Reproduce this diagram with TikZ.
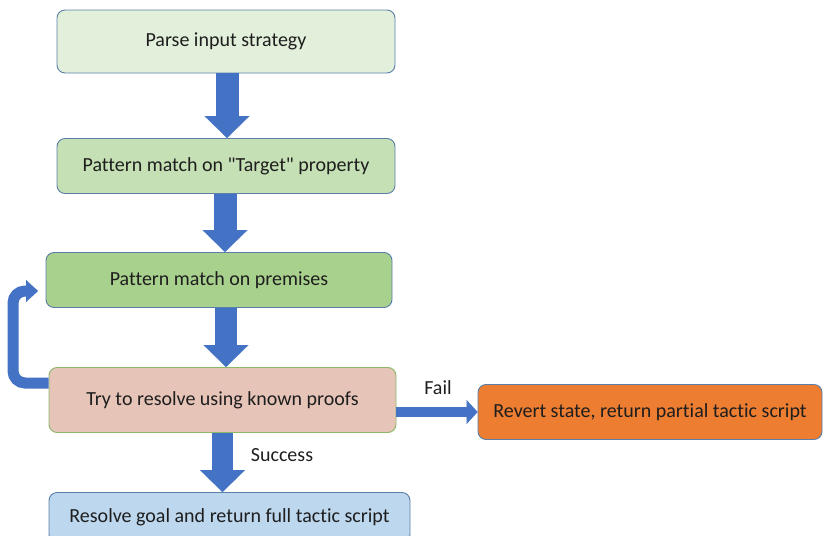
\documentclass[tikz,border=0pt]{standalone}
\usepackage{fontspec}
\setmainfont[Ligatures=NoCommon]{Carlito}
% straight double quote (no TeX mapping to curly quotes)
\newfontfamily\qfont[Ligatures=ResetAll]{Carlito}
\usetikzlibrary{arrows.meta}

\definecolor{flowblue}{HTML}{4472C4}
\definecolor{edgeblue}{HTML}{5B7FA8}
\definecolor{edgegreen}{HTML}{8DB86B}
\definecolor{txt}{HTML}{1E1E1E}
\definecolor{fillA}{HTML}{E2EFDA}
\definecolor{fillB}{HTML}{C5E0B4}
\definecolor{fillC}{HTML}{A9D18E}
\definecolor{fillD}{HTML}{E6C4B8}
\definecolor{fillE}{HTML}{ED7D31}
\definecolor{fillF}{HTML}{BDD7EE}

\newcommand{\sq}{{\qfont"}}

\begin{document}
\begin{tikzpicture}[x=1pt,y=-1pt,
  box/.style={draw=edgeblue, rounded corners=8pt, line width=0.9pt,
    text=txt, font=\fontsize{20}{24}\selectfont, inner sep=0pt, align=center},
  lbl/.style={text=txt, font=\fontsize{20}{24}\selectfont, inner sep=0pt},
  bigarrow/.style={draw=flowblue, line width=23pt,
    -{Triangle[width=45pt,length=22pt,line width=0.1pt,fill=flowblue]}},
  midarrow/.style={draw=flowblue, line width=10pt,
    -{Triangle[width=24pt,length=11pt,line width=0.1pt,fill=flowblue]}},
  looparrow/.style={draw=flowblue, line width=11pt, rounded corners=12pt,
    -{Triangle[width=22pt,length=12pt,line width=0.1pt,fill=flowblue]}}]
\useasboundingbox (0,0) rectangle (823,536);
\clip (0,0) rectangle (823,536);

% process boxes
\node[box, fill=fillA, minimum width=338pt, minimum height=63pt] (parse) at (226,41.5) {Parse input strategy};
\node[box, fill=fillB, minimum width=338pt, minimum height=55pt] (target) at (226,166) {Pattern match on \sq Target\sq{} property};
\node[box, fill=fillC, minimum width=346pt, minimum height=55pt] (premise) at (219,280) {Pattern match on premises};
\node[box, draw=edgegreen, fill=fillD, minimum width=347pt, minimum height=65pt] (resolve) at (222.5,400) {Try to resolve using known proofs};
\node[box, fill=fillE, minimum width=344pt, minimum height=55pt] (revert) at (650,412) {Revert state, return partial tactic script};
\node[box, fill=fillF, minimum width=361pt, minimum height=50pt] (goal) at (229.5,517.5) {Resolve goal and return full tactic script};

% columns of the downward arrows
\coordinate (col1) at (227,0);
\coordinate (col2) at (225,0);
\coordinate (col3) at (226,0);
\coordinate (col4) at (222.5,0);

\draw[bigarrow] (parse.south -| col1) -- (target.north -| col1);
\draw[bigarrow] (target.south -| col2) -- (premise.north -| col2);
\draw[bigarrow, line width=22pt] (premise.south -| col3) -- (resolve.north -| col3);
\draw[bigarrow, line width=21pt] (resolve.south -| col4) -- (goal.north -| col4);

% retry loop back to the premise matching
\coordinate (loopend) at (38,291);
\draw[looparrow] ([yshift=17pt]resolve.west) -| (13,291) -- (loopend);

% failure branch
\draw[midarrow] (resolve.east |- revert.west) -- (revert.west);

% branch labels
\node[lbl] (fail) at (438,388) {Fail};
\node[lbl] (success) at (282,455) {Success};
\end{tikzpicture}
\end{document}
